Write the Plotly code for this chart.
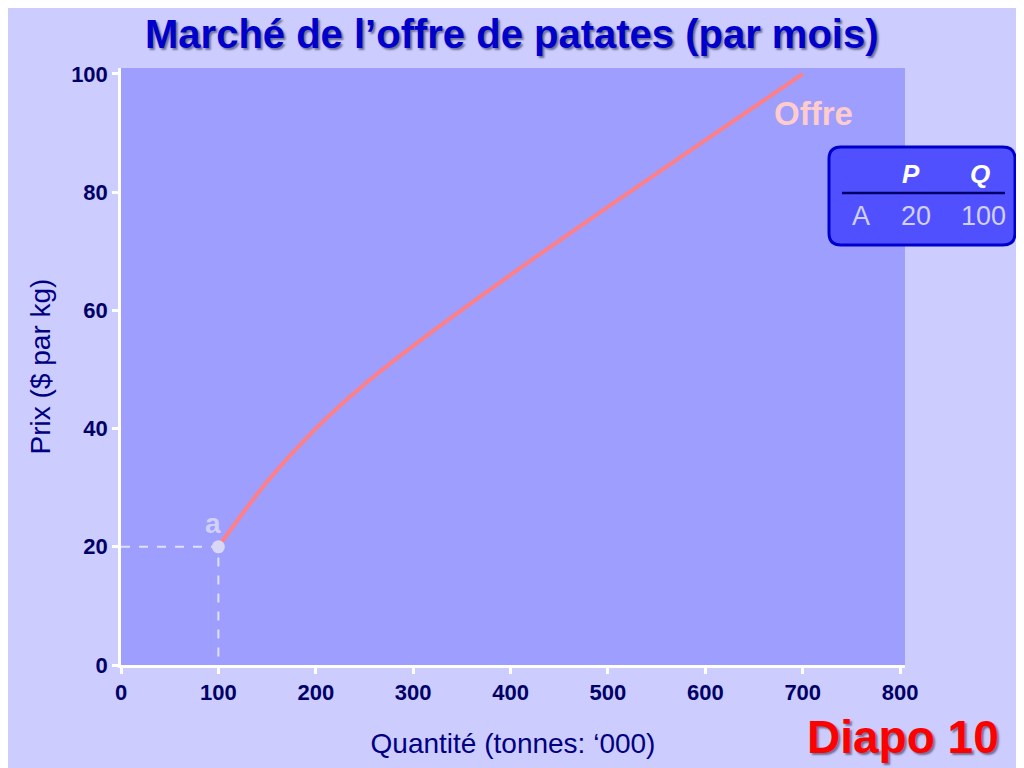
import plotly.graph_objects as go

# Data
supply_q = [100, 150, 200, 250, 300, 400, 500, 600, 700]
supply_p = [20, 31, 40, 47.5, 54, 66, 77.5, 88.8, 100]
point_label = "a"
point_q = 100
point_p = 20
x_ticks = [0, 100, 200, 300, 400, 500, 600, 700, 800]
y_ticks = [0, 20, 40, 60, 80, 100]
table_header = ["P", "Q"]
table_row = ["A", "20", "100"]

# page places the figure 8px from the top-left corner
OFF = 8
W, H = 1024 - OFF, 768 - OFF
# plot-area edges in reference-screen pixels
SL, SR, ST, SB = 121, 905, 68, 665
L, T = SL - OFF, ST - OFF
R, B = W - (SR - OFF), H - (SB - OFF)
pw, ph = SR - SL, SB - ST

def px(x):
    return (x - SL) / pw

def py(y):
    return (SB - y) / ph

FONT = "Liberation Sans, Arial"

fig = go.Figure()

fig.add_trace(go.Scatter(x=[0, point_q, point_q], y=[point_p, point_p, 0], mode="lines",
                         line=dict(color="#E0E0FA", width=2, dash="dash"),
                         hoverinfo="skip", showlegend=False))
fig.add_trace(go.Scatter(x=supply_q, y=supply_p, mode="lines",
                         line=dict(color="#FF7F86", width=4, shape="spline"),
                         showlegend=False))
fig.add_trace(go.Scatter(x=[point_q], y=[point_p], mode="markers",
                         marker=dict(color="#D8D8F6", size=13),
                         showlegend=False))

fig.add_annotation(x=point_q, y=point_p, text="<b>" + point_label + "</b>", showarrow=False,
                   xanchor="center", yanchor="middle", xshift=-5, yshift=23,
                   font=dict(family=FONT, size=28, color="#D0D0F8"))
fig.add_annotation(x=supply_q[-1], y=supply_p[-1], text="<b>Offre</b>", showarrow=False,
                   xanchor="center", yanchor="middle", xshift=11, yshift=-40,
                   font=dict(family=FONT, size=33, color="#FFCCCC"))

# table box
x0, x1, y0, y1, r = px(829), px(1015), py(147), py(245), 12
rx, ry = r / pw, r / ph
path = (f"M {x0+rx},{y0} L {x1-rx},{y0} Q {x1},{y0} {x1},{y0-ry} "
        f"L {x1},{y1+ry} Q {x1},{y1} {x1-rx},{y1} L {x0+rx},{y1} Q {x0},{y1} {x0},{y1+ry} "
        f"L {x0},{y0-ry} Q {x0},{y0} {x0+rx},{y0} Z")
fig.add_shape(type="path", path=path, xref="paper", yref="paper",
              fillcolor="#5050FF", line=dict(color="#0000CC", width=3))
fig.add_shape(type="line", xref="paper", yref="paper", x0=px(842), x1=px(1005),
              y0=py(193), y1=py(193), line=dict(color="#000066", width=2.5))
for txt, xx in zip(table_header, [911, 980]):
    fig.add_annotation(xref="paper", yref="paper", x=px(xx), y=py(174), text=f"<b><i>{txt}</i></b>",
                       showarrow=False, xanchor="center", yanchor="middle",
                       font=dict(family=FONT, size=26, color="#FFFFFF"))
for txt, xx in zip(table_row, [861, 916, 983]):
    fig.add_annotation(xref="paper", yref="paper", x=px(xx), y=py(216), text=txt,
                       showarrow=False, xanchor="center", yanchor="middle",
                       font=dict(family=FONT, size=27, color="#D0D0F8"))

# title and slide label
fig.add_annotation(xref="paper", yref="paper", x=px(512), y=py(34),
                   text="<b>Marché de l’offre de patates (par mois)</b>",
                   showarrow=False, xanchor="center", yanchor="middle",
                   font=dict(family=FONT, size=40, color="#0000CC", shadow="2px 2px 2px #6F6F99"))
fig.add_annotation(xref="paper", yref="paper", x=px(903), y=py(737), text="<b>Diapo 10</b>",
                   showarrow=False, xanchor="center", yanchor="middle",
                   font=dict(family=FONT, size=46, color="#FF0000", shadow="2px 2px 2px #6F6F99"))

axis_common = dict(showgrid=False, zeroline=False, showline=True, linecolor="#FFFFFF", linewidth=2.5,
                   ticks="outside", tickcolor="#FFFFFF", ticklen=6, tickwidth=2.5,
                   tickfont=dict(family=FONT, size=22, color="#000066", weight="bold"))

fig.update_layout(
    width=W, height=H,
    margin=dict(l=L, r=R, t=T, b=B),
    paper_bgcolor="#CCCCFF", plot_bgcolor="#9E9EFE",
    xaxis=dict(range=[0, 805], tickvals=x_ticks, ticktext=[str(v) for v in x_ticks],
               title=dict(text="Quantité (tonnes: ‘000)", standoff=30,
                          font=dict(family=FONT, size=28, color="#000080")),
               **axis_common),
    yaxis=dict(range=[0, 101], tickvals=y_ticks, ticktext=[str(v) for v in y_ticks],
               title=dict(text="Prix ($ par kg)", standoff=13,
                          font=dict(family=FONT, size=28, color="#000080")),
               **axis_common),
)

fig.write_html("out.html")
